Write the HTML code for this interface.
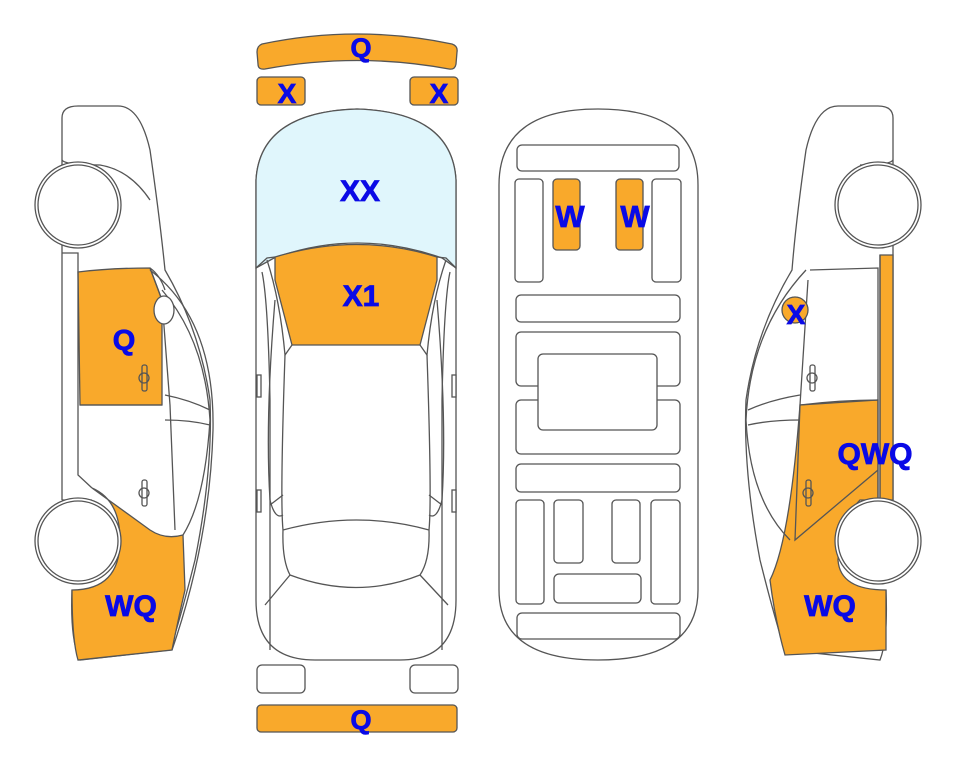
<!DOCTYPE html>
<html><head><meta charset="utf-8"><style>
html,body{margin:0;padding:0;background:#fff;}
svg{display:block}
text{font-family:"Liberation Sans",Arial,sans-serif;font-weight:bold;fill:#0a0ae6;stroke:#0a0ae6;stroke-width:0.8;text-anchor:middle}
</style></head><body>
<svg width="963" height="768" viewBox="0 0 963 768">
<g stroke="#555" stroke-width="1.3" fill="none">
<path d="M262,44 Q357,24 452,44 Q458,46 457,52 L456,64 Q455,70 449,69 Q357,52 265,69 Q258,70 258,64 L257,52 Q257,46 262,44Z" fill="#F9A92B"/>
<rect x="257" y="77" width="48" height="28" rx="4" fill="#F9A92B"/>
<rect x="410" y="77" width="48" height="28" rx="4" fill="#F9A92B"/>
<rect x="257" y="665" width="48" height="28" rx="5" fill="#fff"/>
<rect x="410" y="665" width="48" height="28" rx="5" fill="#fff"/>
<rect x="257" y="705" width="200" height="27" rx="4" fill="#F9A92B"/>

<path d="M256,180 Q260,112 357,109 Q452,112 456,180 L456,600 Q456,660 400,660 L315,660 Q256,660 256,600Z" fill="#fff"/>
<path d="M256,180 Q260,112 357,109 Q452,112 456,180 L456,268 L442,258 Q357,228 274,258 L256,268Z" fill="#E0F6FC"/>
<path d="M275,257 Q357,232 437,257 L437,280 L420,345 L292,345 L275,280Z" fill="#F9A92B"/>
<path d="M256,268 L267,258 L275,257 M456,268 L446,258 L437,257"/>
<path d="M262,272 Q268,300 270,400 L270,650 M450,272 Q444,300 442,400 L442,650"/>
<path d="M267,260 Q280,300 285,355 L292,345 M446,260 Q432,300 427,355 L420,345"/>
<path d="M285,355 Q280,500 283,530 M427,355 Q432,500 429,530"/>
<path d="M275,300 Q265,420 270,500 Q275,520 283,515 M437,300 Q447,420 442,500 Q437,520 429,515"/>
<path d="M283,530 Q357,510 429,530 M283,530 Q282,560 290,575 Q357,600 420,575 Q430,560 429,530"/>
<path d="M290,575 L265,605 M420,575 L448,605 M270,505 L283,495 M442,505 L429,495"/>
<rect x="257" y="375" width="4" height="22" fill="#fff"/>
<rect x="452" y="375" width="4" height="22" fill="#fff"/>
<rect x="257" y="490" width="4" height="22" fill="#fff"/>
<rect x="452" y="490" width="4" height="22" fill="#fff"/>

<path d="M499,185 Q499,109 598,109 Q698,109 698,185 L698,590 Q698,660 598,660 Q499,660 499,590Z" fill="#fff"/>
<rect x="517" y="145" width="162" height="26" rx="5"/>
<rect x="515" y="179" width="28" height="103" rx="4"/>
<rect x="652" y="179" width="29" height="103" rx="4"/>
<rect x="553" y="179" width="27" height="71" rx="4" fill="#F9A92B"/>
<rect x="616" y="179" width="27" height="71" rx="4" fill="#F9A92B"/>
<rect x="516" y="295" width="164" height="27" rx="5"/>
<rect x="516" y="332" width="164" height="54" rx="5"/>
<rect x="516" y="400" width="164" height="54" rx="5"/>
<rect x="538" y="354" width="119" height="76" rx="5" fill="#fff"/>
<rect x="516" y="464" width="164" height="28" rx="5"/>
<rect x="516" y="500" width="28" height="104" rx="4"/>
<rect x="651" y="500" width="29" height="104" rx="4"/>
<rect x="554" y="500" width="29" height="63" rx="4"/>
<rect x="612" y="500" width="28" height="63" rx="4"/>
<rect x="554" y="574" width="87" height="29" rx="5"/>
<rect x="517" y="613" width="163" height="26" rx="5"/>

<path d="M62,500 L62,118 Q62,106 78,106 L118,106 Q140,106 150,150 Q160,220 165,270 Q200,330 210,400 Q213,470 195,560 Q180,620 170,650 L80,660 Q70,640 72,590" fill="#fff"/>
<path d="M78,272 Q110,268 150,268 L162,300 L162,405 L80,405Z" fill="#F9A92B"/>
<path d="M92,488 L150,530 Q165,540 183,535 L185,590 Q178,620 172,650 L78,660 Q72,640 72,590 Q120,590 120,540 Q120,500 92,488Z" fill="#F9A92B"/>
<path d="M62,160 Q65,165 100,165 Q130,170 150,200 M62,253 L78,253 L78,475 L92,488 M62,500 L92,500"/>
<path d="M150,268 L162,300 L170,405 L175,530 M150,268 Q160,275 165,290"/>
<path d="M80,405 L162,405 M165,395 Q190,400 210,410 M165,420 Q190,420 210,425"/>
<path d="M162,290 Q205,340 210,420 Q205,500 183,535"/>
<path d="M150,270 Q215,320 213,430 Q210,540 172,650"/>
<ellipse cx="164" cy="310" rx="10" ry="14" fill="#fff"/>
<rect x="142" y="365" width="5" height="26" rx="2"/><circle cx="144" cy="378" r="5"/>
<rect x="142" y="480" width="5" height="26" rx="2"/><circle cx="144" cy="493" r="5"/>
<circle cx="78" cy="205" r="43" fill="#fff"/><circle cx="78" cy="205" r="40"/>
<circle cx="78" cy="541" r="43" fill="#fff"/><circle cx="78" cy="541" r="40"/>

<path d="M893,500 L893,118 Q893,106 878,106 L838,106 Q816,106 806,150 Q796,220 792,270 Q756,330 746,400 Q743,470 760,560 Q775,620 785,650 L880,660 Q888,640 886,590" fill="#fff"/>
<path d="M880,255 L893,255 L893,500 L880,500Z" fill="#F9A92B"/>
<path d="M800,405 Q840,400 878,400 L878,500 L860,500 Q840,520 838,560 Q840,590 886,590 L886,650 L785,655 Q775,620 770,580 Q790,540 800,405Z" fill="#F9A92B"/>
<path d="M893,160 Q890,165 860,165 M880,255 L880,500 M810,270 L878,268 L878,500 M808,280 L800,405 L795,540 L878,470"/>
<path d="M800,405 L878,400 M800,395 Q770,400 748,410 M800,420 Q770,420 748,425"/>
<path d="M806,270 Q750,330 746,420 Q750,500 790,540"/>
<circle cx="795" cy="310" r="13" fill="#F9A92B"/>
<rect x="810" y="365" width="5" height="26" rx="2"/><circle cx="812" cy="378" r="5"/>
<rect x="806" y="480" width="5" height="26" rx="2"/><circle cx="808" cy="493" r="5"/>
<circle cx="878" cy="205" r="43" fill="#fff"/><circle cx="878" cy="205" r="40"/>
<circle cx="878" cy="541" r="43" fill="#fff"/><circle cx="878" cy="541" r="40"/>
</g>

<text x="361" y="57" font-size="27">Q</text>
<text x="287" y="103" font-size="28">X</text>
<text x="439" y="103" font-size="28">X</text>
<text x="360" y="201" font-size="30">XX</text>
<text x="361" y="306" font-size="30">X1</text>
<text x="361" y="729" font-size="27">Q</text>
<text x="570" y="227" font-size="31">W</text>
<text x="635" y="227" font-size="31">W</text>
<text x="124" y="350" font-size="29">Q</text>
<text x="131" y="616" font-size="30">WQ</text>
<text x="796" y="324" font-size="28">X</text>
<text x="875" y="464" font-size="30">QWQ</text>
<text x="830" y="616" font-size="30">WQ</text>
</svg>
</body></html>
